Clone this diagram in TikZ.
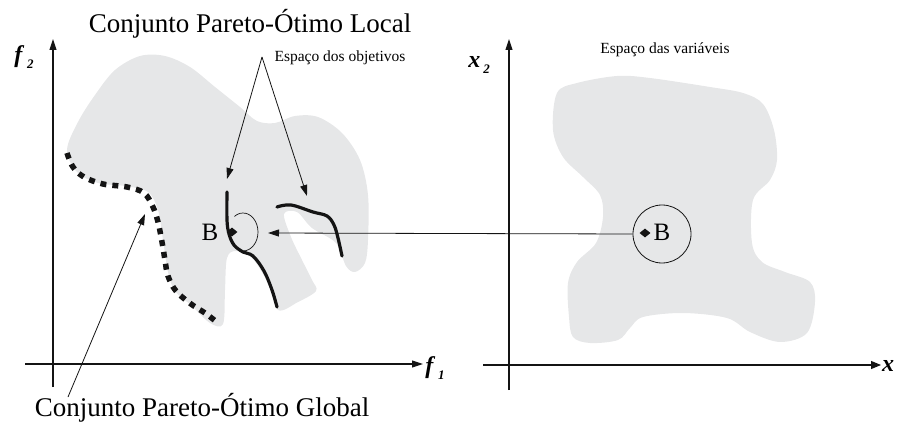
\documentclass[tikz,border=0pt]{standalone}
\usepackage{fontspec}
\setmainfont{Liberation Serif}
\usepackage{xcolor}
\definecolor{regiongray}{RGB}{230, 231, 232}
\definecolor{inkblack}{RGB}{20, 20, 20}
\usepackage{tikz}
\usetikzlibrary{arrows.meta, positioning, calc, shapes.geometric}
\newcommand{\axlabel}[2]{\textbf{\textit{#1}}\hspace{3pt}\raisebox{-0.5ex}{\fontsize{13}{13}\selectfont\textbf{\textit{#2}}}}

\begin{document}
\begin{tikzpicture}[x=1pt, y=-1pt, >={Triangle[length=11pt,width=7pt]},
    axis/.style={->, line width=1.1pt, inkblack},
    thinarrow/.style={->, line width=0.8pt, inkblack},
    frontier/.style={line width=3.2pt, inkblack, line cap=round},
    axisname/.style={font=\fontsize{24}{24}\selectfont, inner sep=0pt},
    ptmark/.style={diamond, fill=inkblack, inner sep=0pt, minimum width=11pt, minimum height=9pt}]
    \useasboundingbox (0,0) rectangle (898,425);
    % regioes
    \fill[regiongray] plot[smooth cycle, tension=0.55] coordinates {(67,150) (78,122) (95,95) (115,70) (140,56) (165,56) (190,67) (215,87) (240,107) (257,121) (275,123) (295,116) (318,117) (342,133) (360,160) (368,195) (368,240) (365,263) (355,272) (346,266) (336,243) (312,228) (297,212) (284,214) (291,237) (302,260) (312,280) (316,291) (298,302) (278,310) (268,283) (252,258) (236,251) (227,258) (225,290) (223,324) (210,323) (192,306) (175,291) (168,272) (163,240) (158,210) (148,192) (125,186) (98,183) (77,172)};
    \fill[regiongray] plot[smooth cycle, tension=0.55] coordinates {(557,93) (577,83) (617,76) (650,78) (710,87) (743,93) (763,104) (774,130) (777,160) (770,180) (753,200) (752,243) (762,262) (785,272) (810,282) (815,302) (807,333) (780,342) (750,332) (727,318) (683,313) (643,317) (630,328) (618,340) (590,343) (573,337) (569,317) (568,283) (577,262) (596,243) (603,217) (600,195) (583,177) (563,157) (553,130)};
    % eixos
    \coordinate (f1from) at (25,364);
    \coordinate (f1to) at (423,364);
    \coordinate (f2from) at (53,387);
    \coordinate (f2to) at (53,39);
    \coordinate (x1from) at (483,365);
    \coordinate (x1to) at (881,365);
    \coordinate (x2from) at (509,390);
    \coordinate (x2to) at (509,39);
    \draw[axis] (f1from) -- (f1to);
    \draw[axis] (f2from) -- (f2to);
    \draw[axis, >={Triangle[length=10pt,width=8pt]}] (x1from) -- (x1to);
    \draw[axis] (x2from) -- (x2to);
    \node[axisname] (f1lbl) at (435,368) {\axlabel{f}{1}};
    \node[axisname] (f2lbl) at (24,57) {\axlabel{f}{2}};
    \node[axisname] (x2lbl) at (479,65) {\axlabel{x}{2}};
    \node[axisname, anchor=west] (x1lbl) at (882,366) {\textbf{\textit{x}}};
    % fronteiras
    \draw[frontier, line cap=butt, line width=5.5pt, dash pattern=on 6pt off 6pt] plot[smooth, tension=0.6] coordinates {(67,153) (73,167) (84,177) (103,184) (127,187) (144,193) (153,207) (158,222) (162,242) (165,260) (168,276) (176,291) (191,304) (205,313) (218,323)};
    \draw[frontier] plot[smooth, tension=0.6] coordinates {(227,192) (227,220) (229,234) (234,245) (243,252) (253,256) (264,271) (272,290) (277,307)};
    \draw[frontier] plot[smooth, tension=0.6] coordinates {(277,207) (291,205) (313,212) (327,216) (334,225) (338,238) (342,256)};
    \draw[line width=0.7pt, inkblack] (243,232) ++(125:15pt and 19pt) arc[start angle=125, end angle=-105, x radius=15pt, y radius=19pt];
    \node[ptmark] (ptB) at (232,232) {};
    \node[font=\fontsize{25}{25}\selectfont, inner sep=0pt] (lblB) at (210,232) {B};
    \node[circle, draw=inkblack, line width=0.8pt, minimum size=58pt] (varcirc) at (662,234) {};
    \node[ptmark] (varB) at (645,233) {};
    \node[font=\fontsize{25}{25}\selectfont, inner sep=0pt] (varlblB) at (662,232) {B};
    % textos
    \node[font=\fontsize{27}{27}\selectfont, inner sep=0pt] (localset) at (250,24) {Conjunto Pareto-Ótimo Local};
    \node[font=\fontsize{27}{27}\selectfont, inner sep=0pt] (globalset) at (202,408) {Conjunto Pareto-Ótimo Global};
    \node[font=\fontsize{15.5}{15.5}\selectfont, inner sep=0pt] (objspace) at (340,58) {Espaço dos objetivos};
    \node[font=\fontsize{15.5}{15.5}\selectfont, inner sep=0pt] (varspace) at (665,50) {Espaço das variáveis};
    % setas
    \coordinate (objapex) at (262,57);
    \coordinate (tipB) at (227,179);
    \coordinate (tipR) at (307,196);
    \coordinate (tipHalo) at (268,233);
    \coordinate (globtail) at (68,397);
    \coordinate (globtip) at (145,214);
    \draw[thinarrow] (objapex) -- (tipB);
    \draw[thinarrow] (objapex) -- (tipR);
    \draw[thinarrow] (varcirc.west) -- (tipHalo);
    \draw[thinarrow] (globtail) -- (globtip);
\end{tikzpicture}
\end{document}
